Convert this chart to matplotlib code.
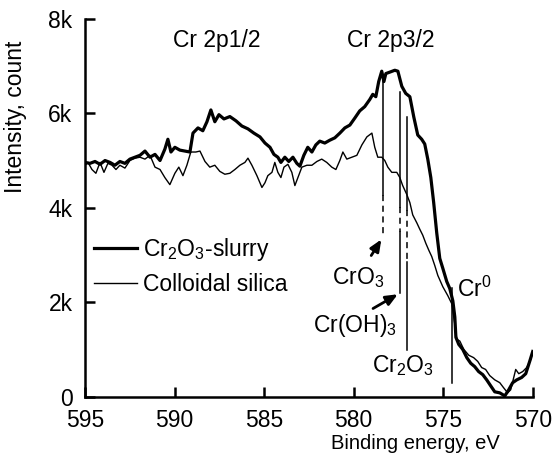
import matplotlib
matplotlib.use("Agg")
import matplotlib.pyplot as plt

plt.rcParams['font.family'] = ['Liberation Sans', 'DejaVu Sans']
plt.rcParams['mathtext.fontset'] = 'custom'
plt.rcParams['mathtext.rm'] = 'Liberation Sans'
plt.rcParams['mathtext.it'] = 'Liberation Sans:italic'
plt.rcParams['mathtext.bf'] = 'Liberation Sans:bold'

# Cr2O3-slurry spectrum (binding energy, counts)
slurry_x = [595.0, 594.72, 594.44, 594.16, 593.88, 593.60, 593.33, 593.05, 592.77, 592.49,
            592.21, 591.93, 591.65, 591.37, 591.09, 590.81, 590.54, 590.37, 590.20, 589.98,
            589.70, 589.42, 589.14, 588.97, 588.69, 588.42, 588.19, 587.97, 587.75, 587.52,
            587.24, 586.91, 586.57, 586.24, 585.90, 585.57, 585.23, 584.95, 584.67, 584.45,
            584.23, 584.06, 583.84, 583.62, 583.39, 583.17, 583.00, 582.78, 582.56, 582.33,
            582.11, 581.89, 581.61, 581.33, 581.05, 580.77, 580.49, 580.21, 579.93, 579.66,
            579.38, 579.10, 578.93, 578.76, 578.60, 578.43, 578.31, 578.20, 577.98, 577.70,
            577.53, 577.31, 577.09, 576.86, 576.64, 576.42, 576.20, 576.03, 575.86, 575.69,
            575.53, 575.36, 575.19, 575.02, 574.80, 574.63, 574.46, 574.35, 574.29, 574.13,
            573.91, 573.68, 573.46, 573.24, 573.02, 572.79, 572.57, 572.35, 572.12, 571.84,
            571.56, 571.34, 571.12, 570.89, 570.62, 570.39, 570.17, 570.00]
slurry_y = [4960, 4940, 4980, 4920, 5000, 4960, 4900, 4980, 4940, 5030,
            5070, 5110, 5200, 5070, 5130, 5000, 5240, 5450, 5180, 5280,
            5220, 5200, 5180, 5580, 5690, 5630, 5820, 6070, 5820, 5970,
            5880, 5930, 5840, 5730, 5670, 5580, 5500, 5370, 5280, 5130,
            5070, 4960, 5070, 4980, 5070, 4940, 4880, 5110, 5280, 5180,
            5330, 5410, 5370, 5430, 5480, 5580, 5690, 5750, 5900, 6050,
            6140, 6290, 6400, 6350, 6670, 6890, 6670, 6840, 6870, 6910,
            6890, 6570, 6420, 6350, 5920, 5540, 5450, 5350, 5030, 4640,
            4110, 3470, 2930, 2720, 2440, 2290, 2030, 1690, 1260, 1110,
            1005, 830, 710, 640, 535, 470, 360, 235, 107, 85,
            20, 150, 300, 360, 410, 490, 750, 960]

# Colloidal silica spectrum
silica_x = [595.0, 594.83, 594.61, 594.39, 594.16, 593.94, 593.72, 593.49, 593.27, 593.05,
            592.77, 592.49, 592.21, 591.93, 591.65, 591.37, 591.09, 590.81, 590.54, 590.26,
            589.98, 589.76, 589.53, 589.31, 589.09, 588.81, 588.58, 588.30, 588.03, 587.75,
            587.47, 587.19, 586.91, 586.63, 586.35, 586.07, 585.90, 585.68, 585.40, 585.12,
            584.95, 584.79, 584.56, 584.40, 584.23, 584.06, 583.89, 583.67, 583.45, 583.28,
            583.11, 582.89, 582.61, 582.33, 582.05, 581.78, 581.50, 581.22, 580.99, 580.77,
            580.60, 580.38, 580.10, 579.82, 579.54, 579.26, 578.98, 578.82, 578.65, 578.43,
            578.26, 578.09, 577.87, 577.59, 577.42, 577.26, 577.03, 576.86, 576.70, 576.47,
            576.31, 576.14, 575.97, 575.80, 575.64, 575.47, 575.30, 575.02, 574.74, 574.52,
            574.35, 574.24, 574.07, 573.85, 573.57, 573.30, 573.07, 572.85, 572.63, 572.40,
            572.12, 571.84, 571.62, 571.40, 571.23, 571.06, 570.95, 570.78, 570.56, 570.34,
            570.11]
silica_y = [4900, 4960, 4810, 4730, 4960, 4750, 4940, 4900, 4810, 4900,
            4840, 5000, 5050, 5070, 5030, 5110, 4860, 4810, 4640, 4490,
            4730, 4860, 4680, 4900, 5180, 5180, 5200, 4980, 4860, 4900,
            4770, 4710, 4730, 4810, 4900, 4960, 5050, 4900, 4680, 4430,
            4530, 4680, 4750, 4960, 4750, 4640, 4860, 4920, 4750, 4470,
            4640, 4860, 4900, 4900, 4980, 5030, 4960, 4860, 4810, 5000,
            5180, 5030, 5070, 5110, 5330, 5500, 5580, 5280, 5070, 5070,
            5000, 4860, 4750, 4750, 4640, 4470, 4280, 4110, 3850, 3680,
            3550, 3420, 3250, 3100, 2970, 2780, 2570, 2330, 2140, 1970,
            1540, 1220, 1180, 1005, 880, 830, 750, 620, 580, 450,
            360, 300, 190, 85, 150, 410, 580, 490, 535, 620,
            790]

# reference binding energies of the chromium species
ref_names = ["CrO$_3$", "Cr(OH)$_3$", "Cr$_2$O$_3$", "Cr$^0$"]
ref_energy = [578.37, 577.40, 577.00, 574.50]

fig = plt.figure(figsize=(5.59, 4.68), dpi=100)
ax = fig.add_axes([0.152, 0.152, 0.801, 0.808])

ax.plot(slurry_x, slurry_y, color='black', lw=2.3, label="Cr$_2$O$_3$-slurry")
ax.plot(silica_x, silica_y, color='black', lw=1.0, label="Colloidal silica")

# marker lines: solid / dashed pieces
e = ref_energy
ax.plot([e[0], e[0]], [6810, 4270], color='black', lw=1.1)
ax.plot([e[0], e[0]], [4270, 3410], color='black', lw=1.1, ls=(0, (4, 3)))
ax.plot([e[1], e[1]], [6450, 4020], color='black', lw=1.1)
ax.plot([e[1], e[1]], [4020, 3490], color='black', lw=1.1, ls=(0, (4, 3)))
ax.plot([e[1], e[1]], [3490, 2200], color='black', lw=1.1)
ax.plot([e[2], e[2]], [5920, 3960], color='black', lw=1.1)
ax.plot([e[2], e[2]], [3960, 2860], color='black', lw=1.1, ls=(0, (4, 3)))
ax.plot([e[2], e[2]], [2860, 995], color='black', lw=1.1)
ax.plot([e[3], e[3]], [2310, 300], color='black', lw=1.1)

arrow = dict(arrowstyle='-|>,head_length=0.7,head_width=0.3', color='black', lw=2.0)
ax.annotate("", xy=(e[0], 3380), xytext=(579.1, 2940), arrowprops=arrow)
ax.annotate("", xy=(e[1], 2200), xytext=(579.05, 1840), arrowprops=arrow)

fs = 16.5
ax.text(579.76, 2530, ref_names[0], ha='center', va='center', fontsize=fs)
ax.text(579.93, 1500, ref_names[1], ha='center', va='center', fontsize=fs)
ax.text(577.22, 655, ref_names[2], ha='center', va='center', fontsize=fs)
ax.text(573.24, 2285, ref_names[3], ha='center', va='center', fontsize=fs)
ax.text(587.63, 7530, "Cr 2p1/2", ha='center', va='center', fontsize=fs)
ax.text(577.93, 7530, "Cr 2p3/2", ha='center', va='center', fontsize=fs)

ax.set_xlim(595, 570)
ax.set_ylim(0, 8000)
ax.set_xticks([595, 590, 585, 580, 575, 570])
ax.set_yticks([0, 2000, 4000, 6000, 8000])
ax.set_yticklabels(["0", "2k", "4k", "6k", "8k"])
ax.tick_params(direction='in', length=7, width=1.8, labelsize=fs, pad=9)

for s in ['top', 'right']:
    ax.spines[s].set_visible(False)
for s in ['left', 'bottom']:
    ax.spines[s].set_linewidth(1.8)

ax.set_xlabel("Binding energy, eV", fontsize=14.5)
ax.xaxis.set_label_coords(0.737, -0.097)
ax.set_ylabel("Intensity, count", fontsize=fs)
ax.yaxis.set_label_coords(-0.13, 0.74)

ax.legend(loc='upper left', bbox_to_anchor=(0.02, 0.425), frameon=False,
          handlelength=1.9, handletextpad=0.25, labelspacing=0.42,
          borderpad=0, borderaxespad=0, fontsize=fs)

fig.savefig("out.png", dpi=100)
